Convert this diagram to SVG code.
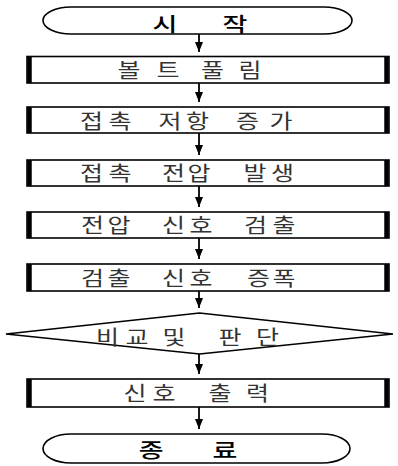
<svg xmlns="http://www.w3.org/2000/svg" width="398" height="466" viewBox="0 0 398 466">
<style>
.bg{fill:#fff}
.term{fill:#fff;stroke:#000;stroke-width:1.6}
.box{fill:#fff;stroke:#000;stroke-width:1.6}
.bar{stroke:#000;stroke-width:4.5}
.dia{fill:#fff;stroke:#000;stroke-width:1.6}
.conn{stroke:#000;stroke-width:1.8;fill:none}
.t{font-family:"Noto Sans CJK KR","Noto Sans",sans-serif;font-size:20px;font-weight:400;fill:#333;text-anchor:middle;dominant-baseline:central}
.tt{font-family:"Noto Sans CJK KR","Noto Sans",sans-serif;font-size:20px;font-weight:500;fill:#000;text-anchor:middle;dominant-baseline:central}
</style>
<defs>
<marker id="ah" viewBox="0 0 10 8" refX="10" refY="4" markerWidth="10" markerHeight="8" markerUnits="userSpaceOnUse" orient="auto">
<path d="M0,0 L10,4 L0,8 Z" fill="#000"/>
</marker>
</defs>
<rect class="bg" x="0" y="0" width="398" height="466"/>

<g id="connectors">
<line class="conn" x1="199" y1="34" x2="199" y2="52" marker-end="url(#ah)"/>
<line class="conn" x1="199" y1="83" x2="199" y2="102" marker-end="url(#ah)"/>
<line class="conn" x1="199" y1="133" x2="199" y2="155" marker-end="url(#ah)"/>
<line class="conn" x1="199" y1="186" x2="199" y2="207" marker-end="url(#ah)"/>
<line class="conn" x1="199" y1="238" x2="199" y2="259" marker-end="url(#ah)"/>
<line class="conn" x1="199" y1="291" x2="199" y2="308" marker-end="url(#ah)"/>
<line class="conn" x1="199" y1="354" x2="199" y2="374" marker-end="url(#ah)"/>
<line class="conn" x1="199" y1="407" x2="199" y2="429" marker-end="url(#ah)"/>
</g>

<g id="start">
<rect class="term" x="43" y="7" width="309" height="27" rx="28" ry="13.5"/>
<g transform="scale(1.35 1)"><text class="tt" x="122.2 148.1 174.1" y="23">시 작</text></g>
</g>

<g id="n1">
<rect class="box" x="27" y="56.5" width="362" height="26.5"/>
<line class="bar" x1="29.5" y1="56.5" x2="29.5" y2="83"/>
<line class="bar" x1="386.5" y1="56.5" x2="386.5" y2="83"/>
<g transform="scale(1.25 1)"><text class="t" x="103.2 134.4 152 170 200" y="70">볼트 풀림</text></g>
</g>

<g id="n2">
<rect class="box" x="27" y="107" width="362" height="26"/>
<line class="bar" x1="29.5" y1="107" x2="29.5" y2="133"/>
<line class="bar" x1="386.5" y1="107" x2="386.5" y2="133"/>
<g transform="scale(1.25 1)"><text class="t" x="73.2 96 116 136 158 177.6 198 224.8" y="120.5">접촉 저항 증가</text></g>
</g>

<g id="n3">
<rect class="box" x="27" y="160" width="362" height="26"/>
<line class="bar" x1="29.5" y1="160" x2="29.5" y2="186"/>
<line class="bar" x1="386.5" y1="160" x2="386.5" y2="186"/>
<g transform="scale(1.25 1)"><text class="t" x="73.2 96 116 138.8 159.2 181.6 204 226" y="173">접촉 전압 발생</text></g>
</g>

<g id="n4">
<rect class="box" x="27" y="212" width="362" height="26"/>
<line class="bar" x1="29.5" y1="212" x2="29.5" y2="238"/>
<line class="bar" x1="386.5" y1="212" x2="386.5" y2="238"/>
<g transform="scale(1.25 1)"><text class="t" x="74 95.2 116 138.8 160.8 182.4 204.4 227.2" y="225">전압 신호 검출</text></g>
</g>

<g id="n5">
<rect class="box" x="27" y="264" width="362" height="27"/>
<line class="bar" x1="29.5" y1="264" x2="29.5" y2="291"/>
<line class="bar" x1="386.5" y1="264" x2="386.5" y2="291"/>
<g transform="scale(1.25 1)"><text class="t" x="74 95.2 116 138.8 160.8 184 206.8 227.2" y="277.5">검출 신호 증폭</text></g>
</g>

<g id="n6">
<polygon class="dia" points="6,334 199.5,313 393,334 199.5,354"/>
<g transform="scale(1.25 1)"><text class="t" x="86 109.6 124 139.2 160 184 214" y="337">비교 및 판단</text></g>
</g>

<g id="n7">
<rect class="box" x="27" y="379" width="362" height="28"/>
<line class="bar" x1="29.5" y1="379" x2="29.5" y2="407"/>
<line class="bar" x1="386.5" y1="379" x2="386.5" y2="407"/>
<g transform="scale(1.25 1)"><text class="t" x="108 131.2 152 176 206" y="392.5">신호 출력</text></g>
</g>

<g id="end">
<rect class="term" x="43" y="434" width="307" height="29" rx="28" ry="14.5"/>
<g transform="scale(1.35 1)"><text class="tt" x="111.9 139.3 166.7" y="449">종 료</text></g>
</g>
</svg>
